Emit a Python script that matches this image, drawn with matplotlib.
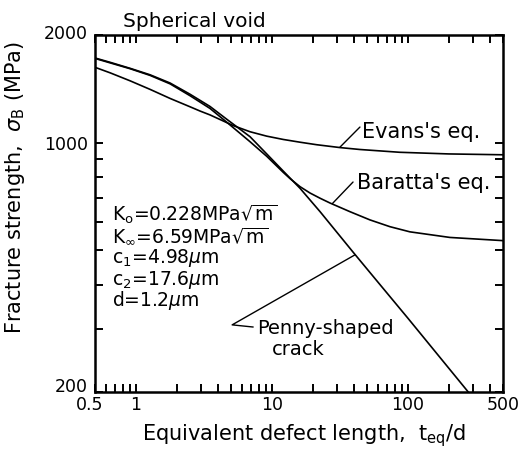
import matplotlib.pyplot as plt
from matplotlib.ticker import FixedLocator, FixedFormatter, NullFormatter
from matplotlib.transforms import ScaledTranslation

plt.rcParams.update({'font.size': 14, 'font.family': 'DejaVu Sans',
                     'mathtext.fontset': 'dejavusans'})

# equivalent defect length teq/d  vs  fracture strength (MPa)
x_evans = [0.5, 0.644, 0.904, 1.268, 1.78, 2.5, 2.96, 3.5, 4.15, 5.2, 6.9, 9.15,
           12.1, 16.1, 21.3, 31.6, 44.4, 87, 200, 500]
y_evans = [1624, 1568, 1489, 1409, 1329, 1259, 1225, 1195, 1160, 1115, 1072, 1042,
           1020, 1002, 986, 968, 956, 939, 929, 924]

x_baratta = [0.5, 0.644, 0.904, 1.268, 1.78, 2.5, 3.5, 4.65, 6.9, 9.15, 12.1, 13.6,
             16.1, 19.05, 22.6, 26.7, 37.5, 52.6, 73.8, 103.5, 204, 500]
y_baratta = [1720, 1672, 1610, 1542, 1460, 1352, 1246, 1140, 1005, 915, 825, 792,
             752, 722, 698, 677, 640, 607, 581, 562, 542, 531]

x_penny = [0.5, 0.644, 0.904, 1.268, 1.78, 2.5, 3.5, 4.65, 6.9, 9.15, 12.1, 16.1,
           22.6, 39.7, 62.3, 100, 278, 320]
y_penny = [1725, 1678, 1614, 1548, 1468, 1365, 1262, 1162, 1038, 929, 832, 744,
           640, 492, 400, 322, 200, 187]

x_major = [0.5, 1, 10, 100, 500]
x_major_labels = ['0.5', '1', '10', '100', '500']
x_minor = [0.6, 0.7, 0.8, 0.9, 2, 3, 4, 5, 6, 7, 8, 9,
           20, 30, 40, 50, 60, 70, 80, 90, 200, 300, 400]
y_major = [200, 1000, 2000]
y_major_labels = ['200', '1000', '2000']
y_minor = [300, 400, 500, 600, 700, 800, 900]

params_text = [r'K$_{\rm o}$=0.228MPa$\sqrt{\rm m}$',
               r'K$_{\infty}$=6.59MPa$\sqrt{\rm m}$',
               r'c$_1$=4.98$\mu$m',
               r'c$_2$=17.6$\mu$m',
               r'd=1.2$\mu$m']

fig, ax = plt.subplots(figsize=[5.2, 4.5], dpi=100)
fig.subplots_adjust(left=0.183, right=0.967, top=0.922, bottom=0.129)

for xs, ys in [(x_evans, y_evans), (x_baratta, y_baratta), (x_penny, y_penny)]:
    ax.plot(xs, ys, color='black', lw=1.2, solid_joinstyle='round')

ax.set_xscale('log')
ax.set_yscale('log')
ax.set_xlim(0.5, 500)
ax.set_ylim(200, 2000)

ax.xaxis.set_major_locator(FixedLocator(x_major))
ax.xaxis.set_major_formatter(FixedFormatter(x_major_labels))
ax.xaxis.set_minor_locator(FixedLocator(x_minor))
ax.xaxis.set_minor_formatter(NullFormatter())
ax.yaxis.set_major_locator(FixedLocator(y_major))
ax.yaxis.set_major_formatter(FixedFormatter(y_major_labels))
ax.yaxis.set_minor_locator(FixedLocator(y_minor))
ax.yaxis.set_minor_formatter(NullFormatter())

ax.tick_params(which='both', direction='in', top=True, right=True,
               length=6, width=1.4, labelsize=12.5)
ax.tick_params(axis='x', pad=3)
ax.tick_params(axis='y', pad=5)
for s in ax.spines.values():
    s.set_linewidth(1.8)

# corner labels sit a little off their ticks in the original
lab = ax.xaxis.get_major_ticks()[0].label1
lab.set_transform(lab.get_transform() + ScaledTranslation(-4 / 72, 0, fig.dpi_scale_trans))
lab = ax.yaxis.get_major_ticks()[0].label1
lab.set_transform(lab.get_transform() + ScaledTranslation(0, 5 / 72, fig.dpi_scale_trans))
lab = ax.yaxis.get_major_ticks()[2].label1
lab.set_transform(lab.get_transform() + ScaledTranslation(0, 2 / 72, fig.dpi_scale_trans))

ax.set_xlabel(r'Equivalent defect length,  t$_{\rm eq}$/d', fontsize=15)
ax.xaxis.set_label_coords(0.512, -0.085)
ax.set_ylabel(r'Fracture strength,  $\sigma_{\rm B}$ (MPa)', fontsize=15)
ax.yaxis.set_label_coords(-0.168, 0.573)

ax.text(0.069, 1.039, 'Spherical void', transform=ax.transAxes,
        ha='left', va='center', fontsize=14.5)

ax.text(0.654, 0.728, "Evans's eq.", transform=ax.transAxes, ha='left', va='center',
        fontsize=15)
ax.annotate('', xy=(31.6, 970), xytext=(44.4, 1105),
            arrowprops=dict(arrowstyle='-', lw=1, shrinkA=0, shrinkB=0))
ax.text(0.642, 0.585, "Baratta's eq.", transform=ax.transAxes, ha='left', va='center',
        fontsize=15)
ax.annotate('', xy=(27.8, 674), xytext=(39.5, 775),
            arrowprops=dict(arrowstyle='-', lw=1, shrinkA=0, shrinkB=0))

ys_text = [0.498, 0.436, 0.376, 0.315, 0.256]
for t, yy in zip(params_text, ys_text):
    ax.text(0.042, yy, t, transform=ax.transAxes, ha='left', va='center', fontsize=13.5)

ax.text(0.397, 0.179, 'Penny-shaped', transform=ax.transAxes, ha='left', va='center')
ax.text(0.434, 0.118, 'crack', transform=ax.transAxes, ha='left', va='center')
ax.plot([0.387, 0.336, 0.637], [0.182, 0.188, 0.384], color='black', lw=1,
        transform=ax.transAxes)

fig.savefig('out.png')
